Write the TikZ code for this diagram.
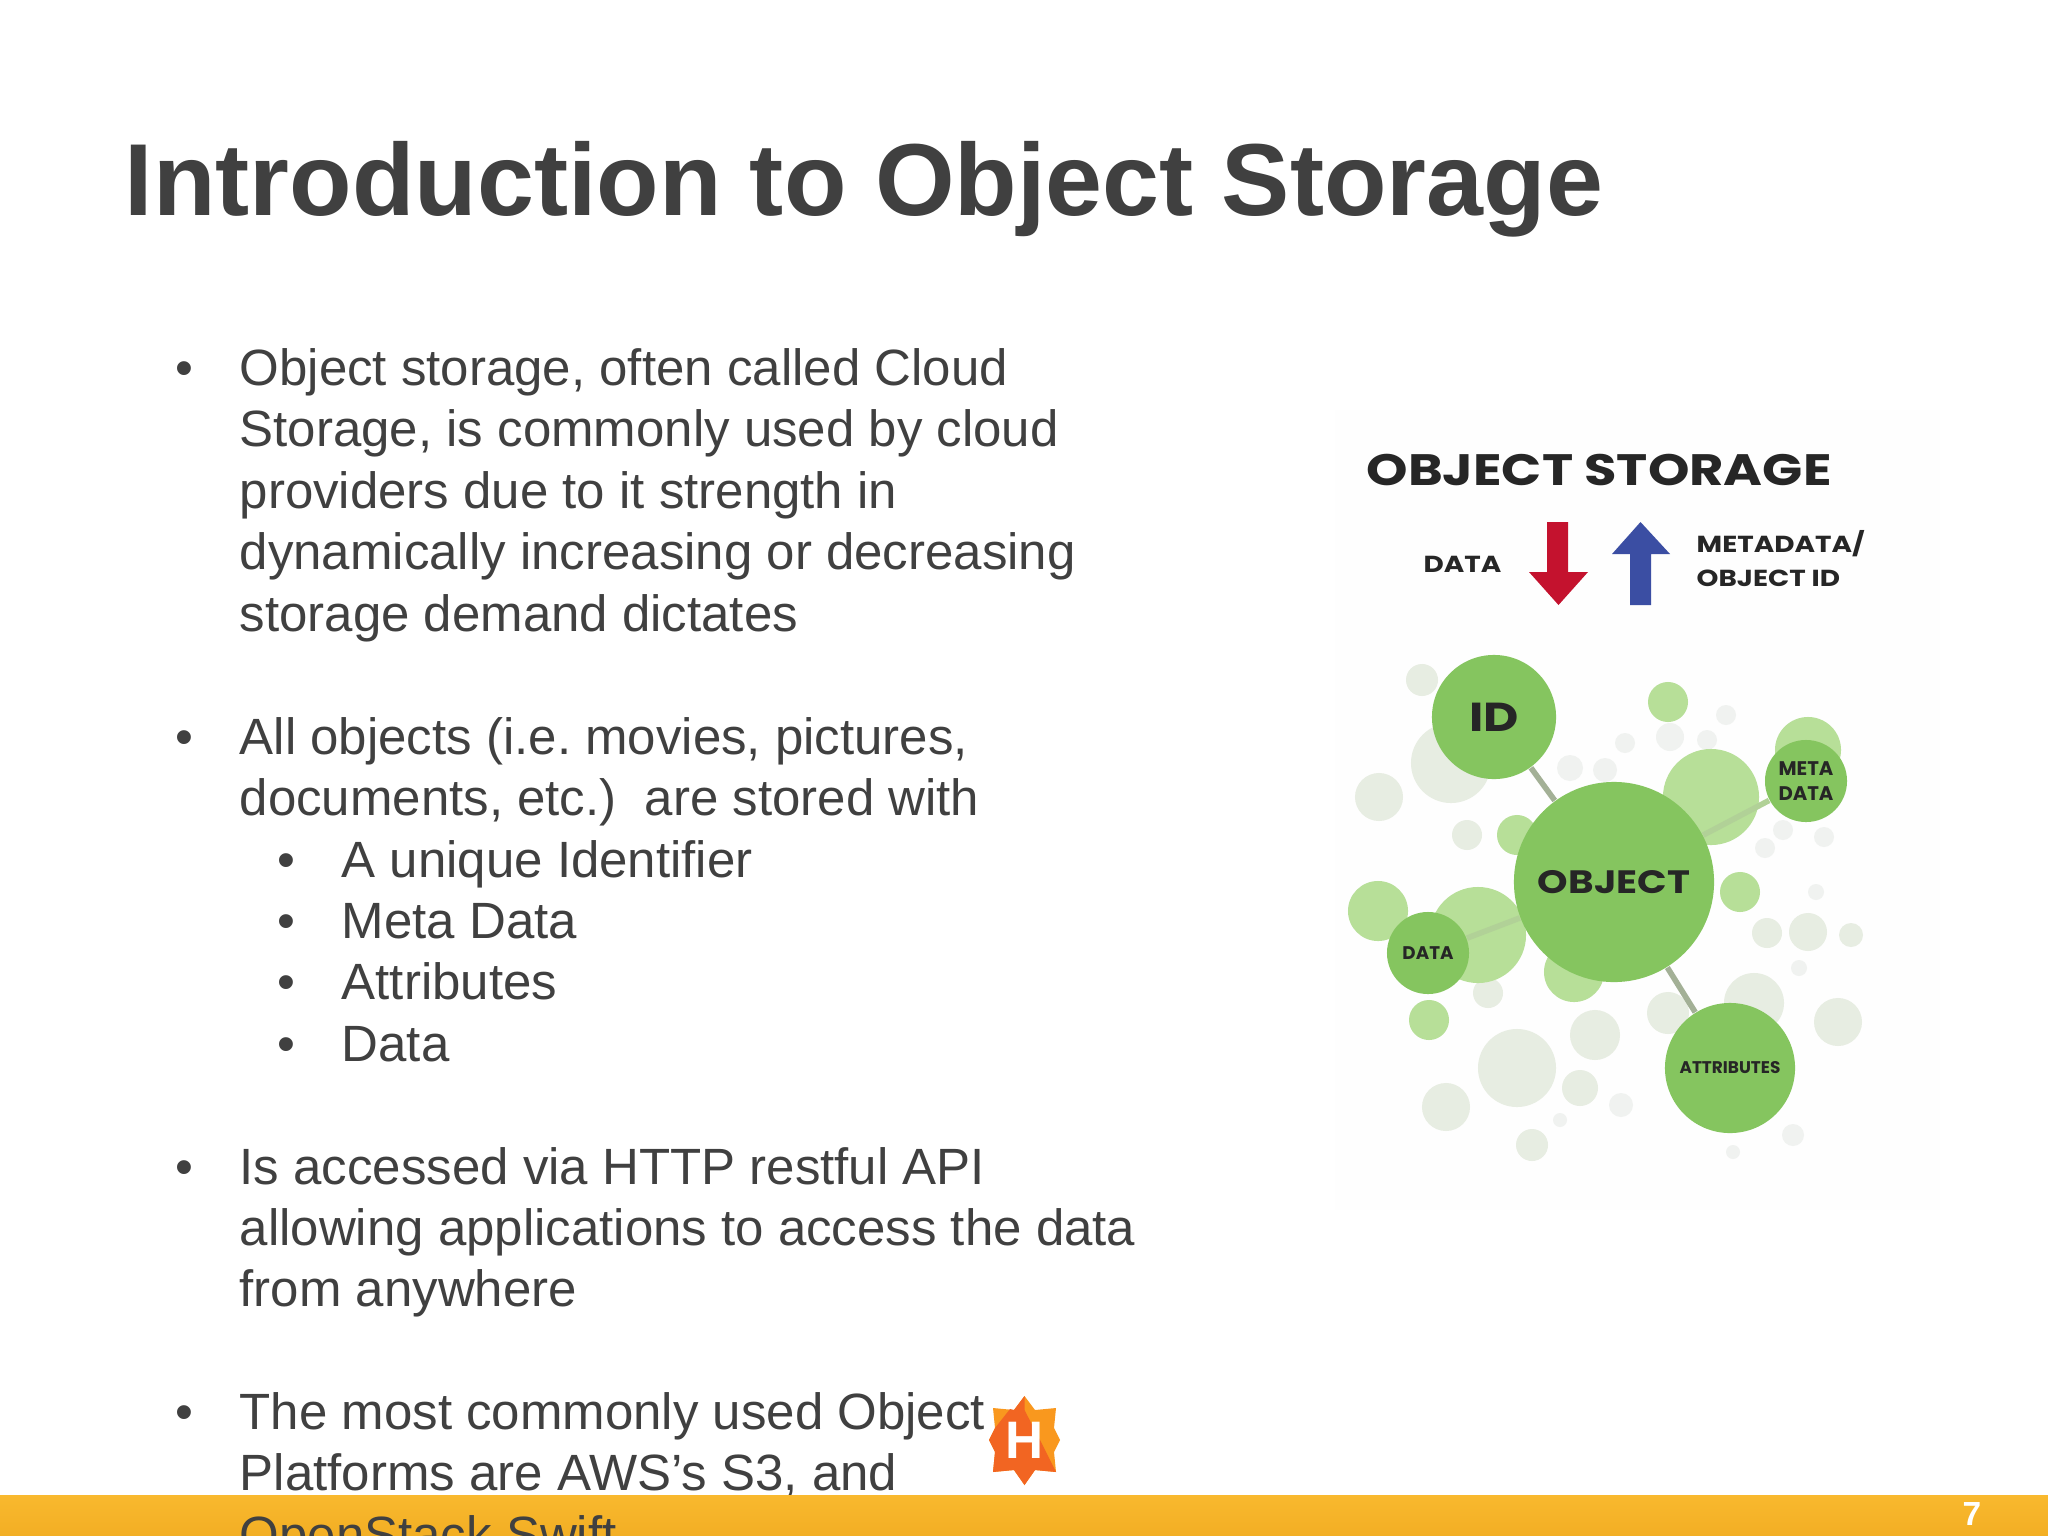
\documentclass[tikz,border=0pt]{standalone}
\usepackage{fontspec}
\setmainfont{Liberation Sans}
\frenchspacing
\newfontfamily\geo{Poppins}[UprightFont=* SemiBold,BoldFont=* Bold]
\newfontfamily\geow{Poppins}[UprightFont=* Bold,BoldFont=* Bold,FakeStretch=1.2]
\definecolor{ink}{HTML}{404040}
\definecolor{maing}{HTML}{85C55F}
\definecolor{lightg}{HTML}{B7DF98}
\definecolor{paleg}{HTML}{E7EDE2}
\definecolor{faint}{HTML}{F0F2F0}
\definecolor{linkg}{HTML}{A3B096}
\definecolor{barT}{HTML}{F9B92E}
\definecolor{barB}{HTML}{F2AE24}
\definecolor{redarrow}{HTML}{C4122E}
\definecolor{bluearrow}{HTML}{3B4EA3}
\definecolor{logoA}{HTML}{F9981E}
\definecolor{logoB}{HTML}{F26522}
\definecolor{ground}{HTML}{FEFEFE}
\tikzset{
  body/.style={anchor=base west,inner sep=0,text=ink,font=\fontsize{14.5}{17.5}\selectfont},
  bub/.style 2 args={circle,draw=none,fill=#1,inner sep=0,minimum size=#2*0.02cm},
  gl/.style={text=black!85,inner sep=0},
  link/.style={line width=1.6pt,draw=linkg},
}
\newcommand{\pale}[4]{\node[bub={#1}{#4}] (#2) at #3 {};}
\begin{document}
\begin{tikzpicture}[x=0.01cm,y=-0.01cm]
\path[use as bounding box,fill=white] (0,0) rectangle (2048,1536);
\node[anchor=base west,inner sep=0,text=ink,font=\fontsize{29.1}{32}\selectfont\bfseries] (title) at (124,215) {Introduction to Object Storage};
% bullets
\foreach \n/\y in {a/385,b/754,c/1184,d/1429}{
  \node[body] (bul\n) at (175,\y) {•};}
\foreach \n/\y in {e/877,f/938,g/999,h/1061}{
  \node[body] (bul\n) at (277,\y) {•};}
\node[body] (t1) at (239,385) {Object storage, often called Cloud};
\node[body] (t2) at (239,446) {Storage, is commonly used by cloud};
\node[body] (t3) at (239,508) {providers due to it strength in};
\node[body] (t4) at (239,569) {dynamically increasing or decreasing};
\node[body] (t5) at (239,631) {storage demand dictates};
\node[body] (t6) at (239,754) {All objects (i.e. movies, pictures,};
\node[body] (t7) at (239,815) {documents, etc.)\ \ are stored with};
\node[body] (s1) at (341,877) {A unique Identifier};
\node[body] (s2) at (341,938) {Meta Data};
\node[body] (s3) at (341,999) {Attributes};
\node[body] (s4) at (341,1061) {Data};
\node[body] (t8) at (239,1184) {Is accessed via HTTP restful API};
\node[body] (t9) at (239,1245) {allowing applications to access the data};
\node[body] (t10) at (239,1306) {from anywhere};
\node[body] (t11) at (239,1429) {The most commonly used Object};
\node[body] (t12) at (239,1490) {Platforms are AWS’s S3, and};
% picture ground
\fill[ground] (1335,410) rectangle (1940,1210);
% heading
\node[gl,anchor=base west,font=\geow\fontsize{12.5}{14}\selectfont] (head) at (1366,485) {OBJECT STORAGE};
\node[gl,anchor=base west,font=\geow\fontsize{6.6}{8}\selectfont] (ldata) at (1423,572) {DATA};
\node[gl,anchor=base west,font=\geow\fontsize{6.6}{8}\selectfont] (lmeta) at (1696,552) {METADATA/};
\node[gl,anchor=base west,font=\geow\fontsize{6.6}{8}\selectfont] (lobj) at (1696,586) {OBJECT ID};
\fill[redarrow] (1547,522) -- (1568,522) -- (1568,572) -- (1588,572) -- (1558.5,605) -- (1529,572) -- (1547,572) -- cycle;
\fill[bluearrow] (1640.5,522) -- (1670,554) -- (1651,554) -- (1651,605) -- (1630,605) -- (1630,554) -- (1612,554) -- cycle;
% pale bubbles
\pale{paleg}{p1}{(1379,797)}{24}
\pale{paleg}{p2}{(1451,763)}{40}
\pale{paleg}{p3}{(1422,680)}{16}
\pale{faint}{p4}{(1726,715)}{10}
\pale{faint}{p5}{(1670,737)}{14}
\pale{faint}{p6}{(1625,743)}{10}
\pale{faint}{p7}{(1707,740)}{10}
\pale{faint}{p8}{(1570,768)}{13}
\pale{faint}{p9}{(1605,770)}{12}
\pale{paleg}{p10}{(1467,835)}{15}
\pale{paleg}{p11}{(1488,993)}{15}
\pale{paleg}{p12}{(1668,1013)}{21}
\pale{paleg}{p13}{(1754,1003)}{30}
\pale{paleg}{p14}{(1838,1022)}{24}
\pale{paleg}{p15}{(1767,933)}{15}
\pale{paleg}{p16}{(1808,932)}{19}
\pale{paleg}{p17}{(1851,935)}{12}
\pale{faint}{p18}{(1816,892)}{8}
\pale{faint}{p19}{(1799,968)}{8}
\pale{faint}{p20}{(1765,848)}{10}
\pale{faint}{p21}{(1783,830)}{10}
\pale{faint}{p22}{(1824,837)}{10}
\pale{paleg}{p23}{(1595,1035)}{25}
\pale{paleg}{p24}{(1517,1068)}{39}
\pale{paleg}{p25}{(1580,1088)}{18}
\pale{faint}{p26}{(1621,1105)}{12}
\pale{faint}{p27}{(1560,1120)}{7}
\pale{paleg}{p28}{(1446,1107)}{24}
\pale{paleg}{p29}{(1532,1145)}{16}
\pale{faint}{p30}{(1793,1135)}{11}
\pale{faint}{p31}{(1733,1152)}{7}
% light green bubbles
\pale{lightg}{g1}{(1378,911)}{30}
\pale{lightg}{g2}{(1478,935)}{48}
\pale{lightg}{g3}{(1574,972)}{30}
\pale{lightg}{g4}{(1429,1020)}{20}
\pale{lightg}{g5}{(1740,892)}{20}
\pale{lightg}{g6}{(1517,835)}{20}
\pale{lightg}{g7}{(1711,797)}{48}
\pale{lightg}{g8}{(1668,702)}{20}
\pale{lightg}{g9}{(1808,750)}{33}
% main bubbles
\node[bub={maing}{62},gl,font=\geow\fontsize{11.5}{14}\selectfont] (id) at (1494,717) {ID};
\node[bub={maing}{100},gl,font=\geow\fontsize{9.2}{12}\selectfont] (obj) at (1614,882) {OBJECT};
\node[bub={maing}{41},gl,font=\geo\bfseries\fontsize{5.6}{7.2}\selectfont,align=center] (meta) at (1806,781) {META\\DATA};
\node[bub={maing}{41},gl,font=\geo\bfseries\fontsize{5.2}{6}\selectfont] (dat) at (1428,953) {DATA};
\node[bub={maing}{65},gl,font=\geo\bfseries\fontsize{4.8}{5}\selectfont] (attr) at (1730,1068) {ATTRIBUTES};
\draw[link] (id) -- (obj);
\draw[link,draw=lightg!70!linkg] (obj) -- (meta);
\draw[link,draw=lightg!70!linkg] (obj) -- (dat);
\draw[link] (obj) -- (attr);
% logo
\fill[logoA] (1024.5,1396) -- (1035,1410) -- (1056,1408) -- (1054,1428) -- (1060,1440) -- (1054,1452) -- (1056,1472) -- (1035,1470) -- (1024.5,1485) -- (1014,1470) -- (993,1472) -- (995,1452) -- (989,1440) -- (995,1428) -- (993,1408) -- (1014,1410) -- cycle;
\fill[logoB] (1024.5,1396) -- (1014,1410) -- (1010,1409) -- (995,1428) -- (989,1440) -- (995,1452) -- (993,1472) -- (1014,1470) -- (1024.5,1485) -- (1035,1470) -- (1056,1472) -- (1040,1440) -- (1024.5,1410) -- cycle;
\node[inner sep=0,text=white,font=\fontsize{15}{16}\selectfont\bfseries] (logoH) at (1024.5,1440) {H};
% footer bar
\shade[top color=barT,bottom color=barB] (0,1495) rectangle (2048,1536);
\node[anchor=base,inner sep=0,text=white,font=\fontsize{9.5}{11}\selectfont\bfseries] (page) at (1972,1525) {7};
\node[body] (t13) at (239,1552) {OpenStack Swift};
\end{tikzpicture}
\end{document}
